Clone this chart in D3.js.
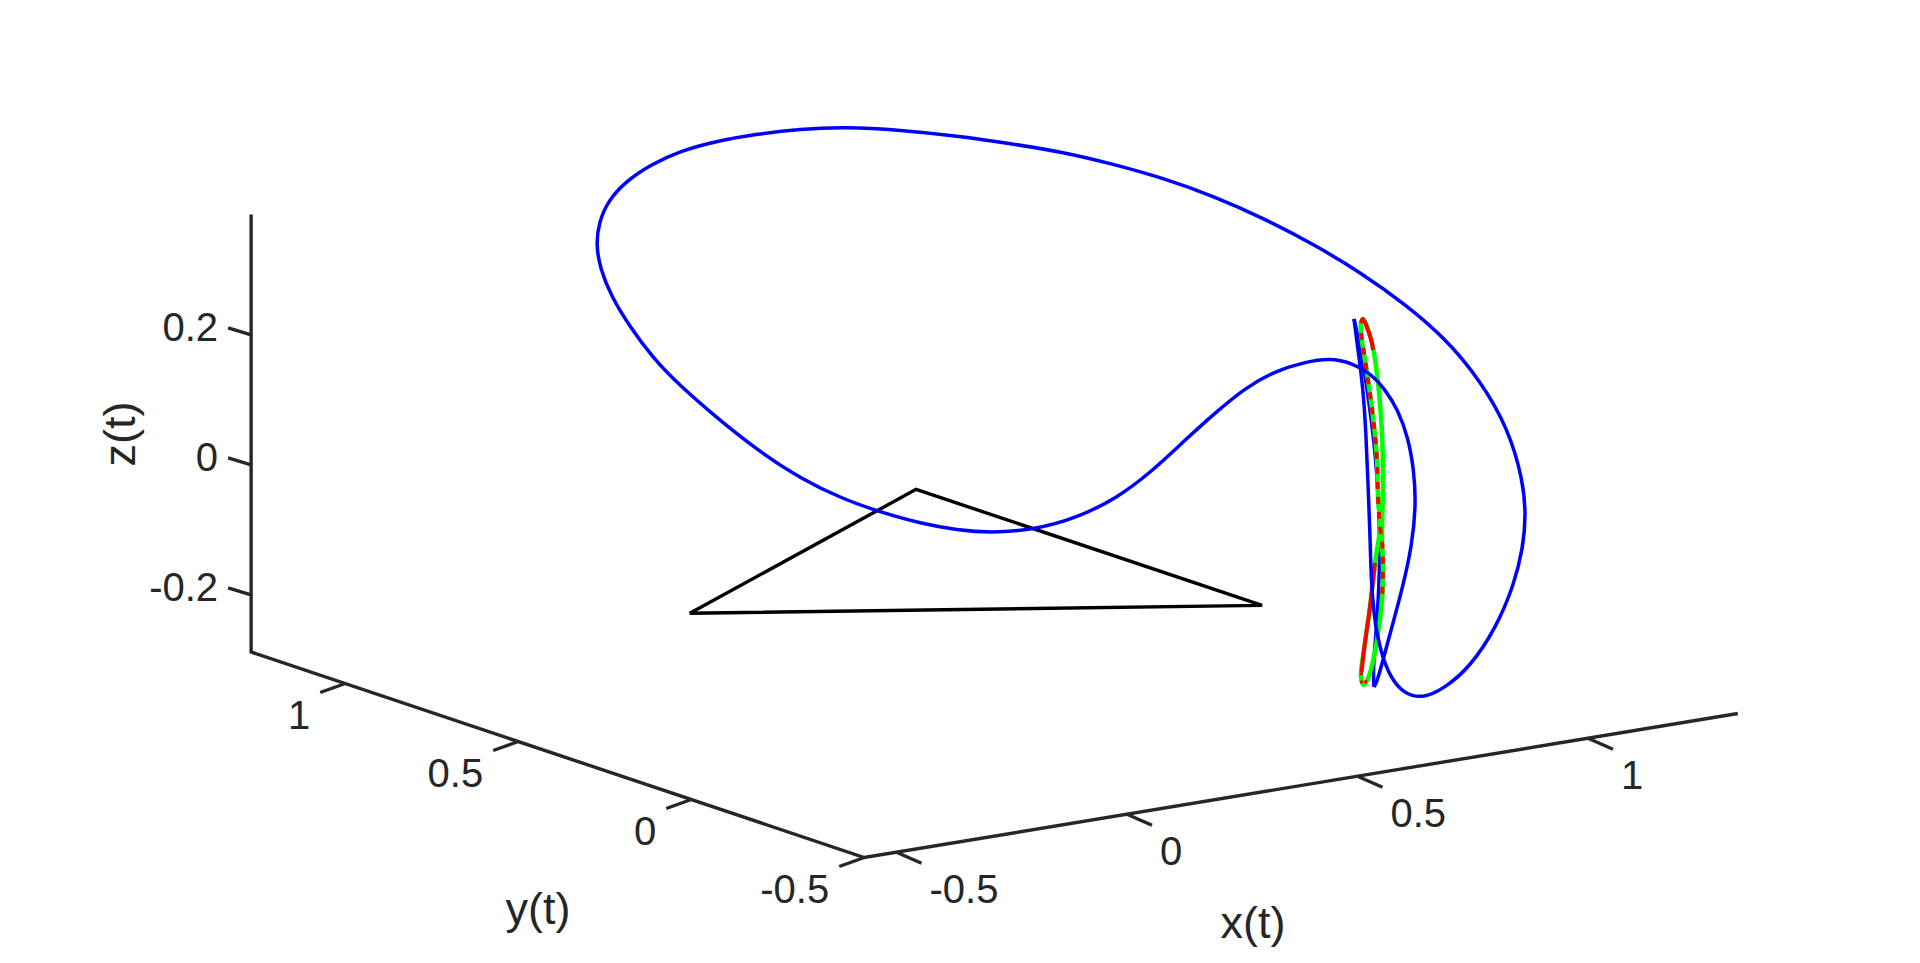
<!DOCTYPE html>
<html><head><meta charset="utf-8">
<script src="https://cdn.jsdelivr.net/npm/d3@7"></script>
<style>html,body{margin:0;padding:0;background:#fff;overflow:hidden}text{font-family:"Liberation Sans",Arial,sans-serif;fill:#262626}</style>
</head><body><svg id="c" width="1920" height="963"></svg>
<script>
// Axis ticks and limits
const xLim=[-0.57,1.325], yLim=[-0.5,1.272], zLim=[-0.288,0.385];
const xTicks=[-0.5,0,0.5,1], yTicks=[-0.5,0,0.5,1], zTicks=[-0.2,0,0.2];
const axisLabels=["x(t)","y(t)","z(t)"];
// Triangle of primaries (x,y,z)
const triX=[-0.573,0.293,0.293], triY=[0,0.5,-0.5], triZ=[-0.001,-0.001,-0.001];
// Curves, in view-plane units (horizontal, vertical)
const blueOuterH=[.708,.716,.726,.732,.736,.740,.742,.748,.760,.780,.806,.844,.890,.940,.992,1.028,1.046,1.052,1.046,1.016,.960,.890,.810,.720,.626,.526,.426,.326,.226,.126,.026,-.086,-.200,-.310,-.400,-.486,-.566,-.640,-.700,-.750,-.784,-.802,-.808,-.800,-.778,-.740,-.694,-.644,-.566,-.486,-.394,-.314,-.240,-.154,-.086,-.020,.066,.154,.234,.300,.366,.430,.490,.550,.610,.660,.704,.740,.770,.796,.816,.828,.832,.824,.806,.786,.766,.754,.748];
const blueOuterV=[.362,.300,.226,.134,.034,-.066,-.154,-.234,-.300,-.354,-.386,-.398,-.376,-.334,-.256,-.170,-.096,-.030,.040,.144,.240,.324,.392,.456,.512,.564,.608,.644,.672,.696,.712,.728,.740,.746,.742,.732,.718,.698,.670,.636,.598,.556,.512,.464,.408,.346,.284,.232,.164,.100,.040,.002,-.024,-.048,-.060,-.066,-.060,-.036,.004,.054,.116,.174,.224,.258,.276,.284,.274,.254,.222,.180,.126,.060,-.010,-.090,-.172,-.246,-.320,-.364,-.374];
const blueBackH=[.748,.746,.752,.758,.760,.756,.750,.740,.730,.720,.708];
const blueBackV=[-.374,-.340,-.266,-.180,-.080,.020,.100,.180,.250,.310,.362];
const greenH=[.726,.744,.756,.764,.766,.764,.766,.764,.754,.740,.728,.722,.728,.740,.750,.760,.756,.754,.746,.734,.722,.722];
const greenV=[.362,.314,.234,.134,.034,-.080,-.134,-.200,-.280,-.346,-.370,-.354,-.300,-.214,-.126,-.054,.006,.080,.166,.254,.334,.354];
const redTopH=[.722,.726,.736,.744,.746];
const redTopV=[.354,.362,.340,.314,.300];
const redLowH=[.750,.740,.728,.723];
const redLowV=[-.126,-.214,-.300,-.345];
const redTipH=[.723,.722,.728,.734];
const redTipV=[-.345,-.362,-.370,-.355];
const redDashH=[.722,.734,.746,.754,.756,.760,.764,.766,.764];
const redDashV=[.334,.254,.166,.080,.006,-.054,-.080,-.134,-.200];

const svg=d3.select("#c");
// projection of the 3D box
const px=d3.scaleLinear().domain([0,1]).range([0,461]);
const py=d3.scaleLinear().domain([0,1]).range([0,346]);
const qx=d3.scaleLinear().domain([0,1]).range([0,76]);
const qy=d3.scaleLinear().domain([0,1]).range([0,116]);
const qz=d3.scaleLinear().domain([0,1]).range([0,650]);
const P=(x,y,z)=>[954+px(x)-py(y), 569-qx(x)-qy(y)-qz(z)];
// view-plane scales
const hS=d3.scaleLinear().domain([-2,1.84]).range([0,1920]);
const vS=d3.scaleLinear().domain([1,-0.926]).range([0,963]);
const gen=c=>d3.line().x(d=>hS(d[0])).y(d=>vS(d[1])).curve(c);
const zip=(a,b)=>a.map((d,i)=>[d,b[i]]);
const axisCol="#262626";

function seg(a,b,w,col){svg.append("line").attr("x1",a[0]).attr("y1",a[1]).attr("x2",b[0]).attr("y2",b[1]).attr("stroke",col).attr("stroke-width",w);}
// axes
const corner=P(xLim[0],yLim[0],zLim[0]);
svg.append("path").attr("fill","none").attr("stroke",axisCol).attr("stroke-width",3.4).attr("stroke-linejoin","miter")
  .attr("d",d3.line()([P(xLim[1],yLim[0],zLim[0]),corner,P(xLim[0],yLim[1],zLim[0]),P(xLim[0],yLim[1],zLim[1])]));
const fs=40;
xTicks.forEach(t=>{const p=P(t,yLim[0],zLim[0]);seg(p,[p[0]+25,p[1]+11],3.4,axisCol);
  svg.append("text").attr("x",p[0]+33).attr("y",p[1]+36).attr("dy","0.36em").attr("font-size",fs).text(t);});
yTicks.forEach(t=>{const p=P(xLim[0],t,zLim[0]);seg(p,[p[0]-25,p[1]+9],3.4,axisCol);
  svg.append("text").attr("x",p[0]-35).attr("y",p[1]+31).attr("dy","0.36em").attr("text-anchor","end").attr("font-size",fs).text(t);});
zTicks.forEach(t=>{const p=P(xLim[0],yLim[1],t);seg(p,[p[0]-23,p[1]-7],3.4,axisCol);
  svg.append("text").attr("x",p[0]-33).attr("y",p[1]-8).attr("dy","0.36em").attr("text-anchor","end").attr("font-size",fs).text(t);});
svg.append("text").attr("x",1253).attr("y",924).attr("dy","0.3em").attr("text-anchor","middle").attr("font-size",45).text(axisLabels[0]);
svg.append("text").attr("x",538).attr("y",910).attr("dy","0.3em").attr("text-anchor","middle").attr("font-size",45).text(axisLabels[1]);
svg.append("text").attr("transform","translate(135,434) rotate(-90)").attr("text-anchor","middle").attr("font-size",45).text(axisLabels[2]);

// triangle
const tri=triX.map((d,i)=>P(d,triY[i],triZ[i]));
svg.append("path").attr("d",d3.line()(tri)+"Z").attr("fill","none").attr("stroke","#000").attr("stroke-width",3.4);

function draw(h,v,col,w,curve,dash){
  const s=svg.append("path").attr("d",gen(curve)(zip(h,v))).attr("fill","none").attr("stroke",col).attr("stroke-width",w);
  if(dash)s.attr("stroke-dasharray",dash);
}
const cr=d3.curveCatmullRom.alpha(0.5);
draw(blueBackH,blueBackV,"#0000ff",3.5,d3.curveBasis);
draw(greenH,greenV,"#00ff00",4.5,d3.curveCatmullRomClosed.alpha(0.5));
draw(redLowH,redLowV,"#ff0000",4,cr);
draw(redTipH,redTipV,"#ff0000",3,cr,"3 5");
draw(redTopH,redTopV,"#ff0000",4,cr);
draw(redDashH,redDashV,"#ff0000",4,cr,"7 8");
draw(blueOuterH,blueOuterV,"#0000ff",3.5,d3.curveBasis);
</script></body></html>
